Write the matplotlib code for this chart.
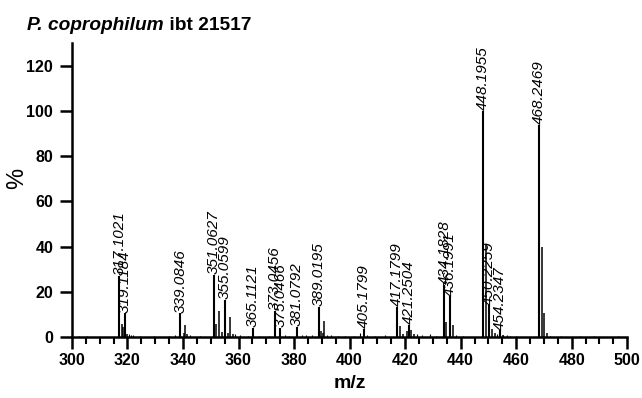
import matplotlib
matplotlib.use("Agg")
import matplotlib.pyplot as plt
from matplotlib.ticker import MultipleLocator

plt.rcParams['font.family'] = ['Liberation Sans', 'DejaVu Sans']

# labelled peaks (m/z, relative intensity %)
label_mz = [317.1021, 319.1184, 339.0846, 351.0627, 355.0599, 365.1121,
            373.0456, 375.0466, 381.0792, 389.0195, 405.1799, 417.1799,
            421.2504, 434.1828, 436.1991, 448.1955, 450.2259, 454.2347,
            468.2469]
label_int = [27.0, 10.5, 10.5, 27.5, 16.5, 4.0,
             11.5, 4.0, 4.6, 13.5, 3.8, 13.5,
             5.5, 23.0, 18.0, 100.0, 14.0, 3.0,
             93.7]

# unlabelled isotope / fragment peaks
other_mz = [318.1, 318.5, 319.8, 340.2, 340.9, 341.5, 351.9, 353.0, 353.9,
            356.1, 356.9, 358.1, 389.7, 390.3, 390.9, 418.0, 419.2, 420.6,
            422.2, 423.2, 434.8, 437.2, 449.2, 451.2, 452.2, 455.3, 469.3,
            470.2, 471.2]
other_int = [6.0, 4.5, 1.5, 2.0, 5.5, 1.5, 6.0, 11.5, 2.4,
             1.8, 9.0, 1.3, 2.5, 2.0, 6.9, 4.7, 1.5, 2.5,
             3.2, 1.5, 6.8, 5.4, 41.0, 3.5, 2.0, 1.0, 40.0,
             10.7, 2.0]

# small noise peaks along the baseline
noise_mz = [302.5, 305.5, 320.5, 321.3, 322.1, 324.6, 329.4, 334.8, 337.0,
            342.6, 346.0, 358.8, 360.7, 363.5, 367.3, 370.9, 376.9, 378.2,
            382.9, 384.4, 386.5, 391.8, 393.2, 396.0, 398.5, 401.5, 403.8,
            406.2, 409.0, 412.8, 424.2, 426.0, 429.0, 431.0, 438.5, 441.0,
            453.0, 455.4, 456.6, 457.8, 460.0, 472.3, 476.0, 483.0, 488.0,
            496.5]
noise_int = [0.6, 0.5, 1.5, 1.0, 0.8, 0.6, 0.6, 0.5, 0.8,
             1.0, 0.5, 1.2, 0.8, 0.5, 0.7, 0.7, 0.8, 0.6,
             1.0, 0.8, 0.9, 1.0, 0.8, 0.5, 0.6, 0.5, 2.0,
             1.0, 0.6, 1.0, 1.2, 0.8, 1.5, 0.6, 1.0, 0.5,
             1.5, 1.0, 0.8, 0.6, 0.5, 0.6, 0.4, 0.4, 0.3,
             0.5]


def main():
    fig = plt.figure(figsize=(6.42, 3.98), dpi=100)
    ax = fig.add_axes([0.112, 0.153, 0.865, 0.739])

    ax.vlines(noise_mz, 0, noise_int, color="black", lw=0.8)
    ax.vlines(other_mz, 0, other_int, color="black", lw=1.1)
    ax.vlines(label_mz, 0, label_int, color="black", lw=1.5)

    for mz, h in zip(label_mz, label_int):
        ax.text(mz, h + 0.3, f"{mz:.4f}", rotation=90, ha="center",
                va="bottom", fontsize=11, style="italic")

    ax.set_xlim(300, 500)
    ax.set_ylim(0, 130)
    ax.xaxis.set_major_locator(MultipleLocator(20))
    ax.xaxis.set_minor_locator(MultipleLocator(5))
    ax.yaxis.set_major_locator(MultipleLocator(20))

    for s in ("top", "right"):
        ax.spines[s].set_visible(False)
    for s in ("left", "bottom"):
        ax.spines[s].set_linewidth(1.8)

    ax.tick_params(axis="both", which="major", direction="out", length=8.5,
                   width=1.8, labelsize=11.5)
    ax.tick_params(axis="x", which="minor", direction="out", length=5,
                   width=1.5)
    ax.tick_params(axis="x", which="major", pad=3)
    ax.tick_params(axis="y", which="major", pad=5)
    for lab in ax.get_xticklabels() + ax.get_yticklabels():
        lab.set_fontweight("bold")

    ax.set_ylabel("%", fontsize=17)
    ax.yaxis.set_label_coords(-0.078, 0.54)
    ax.set_xlabel("m/z", fontsize=14, fontweight="bold")
    ax.xaxis.set_label_coords(0.5, -0.13)

    t1 = fig.text(27 / 642, 1 - 30 / 398, "P. coprophilum", fontsize=13.8,
                  fontweight="bold", style="italic", va="baseline")
    ax.annotate(" ibt 21517", xy=(1, 0), xycoords=t1, fontsize=13.8,
                fontweight="bold", va="bottom", annotation_clip=False)

    fig.savefig("out.png", dpi=100)
    plt.close(fig)


if __name__ == "__main__":
    main()
